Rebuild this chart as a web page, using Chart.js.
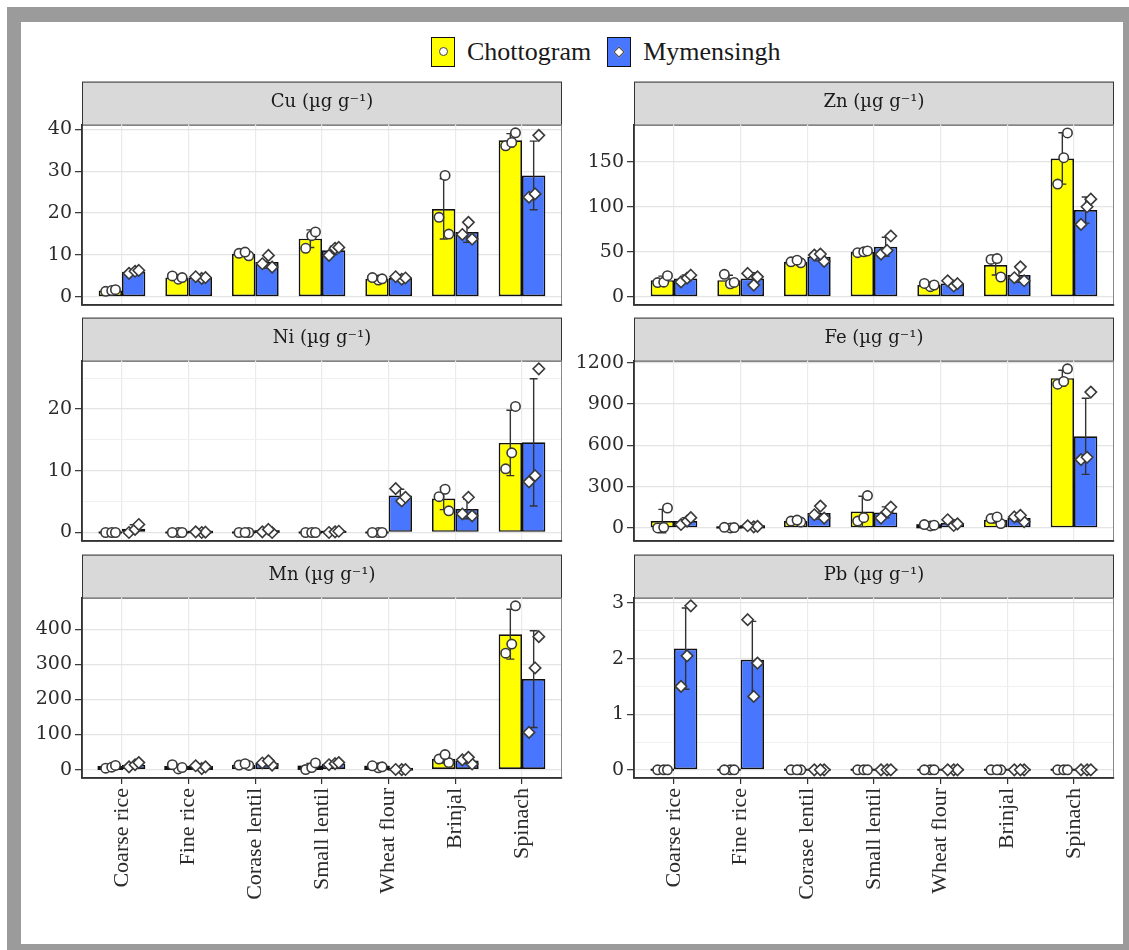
<!DOCTYPE html>
<html>
<head>
<meta charset="utf-8">
<script src="https://cdn.jsdelivr.net/npm/chart.js@4.4.0/dist/chart.umd.min.js"></script>
<style>
  html, body { margin: 0; padding: 0; background: #fff; width: 1129px; height: 950px; overflow: hidden; }
  #frame { position: absolute; left: 7px; top: 7px; width: 1130px; height: 951px; box-sizing: border-box;
           border: 14px solid #9b9b9b; border-top-width: 15px; }
  .panel { position: absolute; }
  #legend { position: absolute; left: 431px; top: 36px; height: 31px; display: flex; align-items: center;
            font-family: "Liberation Serif", serif; font-size: 26px; color: #1a1a1a; }
  .key { width: 22px; height: 28px; border: 1.5px solid #111; position: relative; }
  .key span { position: absolute; left: 50%; top: 50%; background: #fff; border: 1.5px solid #444; box-sizing: border-box; }
  .key .dot { width: 9px; height: 9px; margin: -4.5px 0 0 -4.5px; border-radius: 50%; }
  .key .dia { width: 8px; height: 8px; margin: -4px 0 0 -4px; transform: rotate(45deg); }
</style>
</head>
<body>
<div id="frame"></div>
<div id="legend">
  <div class="key" style="background:#FFFF00"><span class="dot"></span></div>
  <div style="margin: 0 16px 0 12px">Chottogram</div>
  <div class="key" style="background:#4876FF"><span class="dia"></span></div>
  <div style="margin-left: 12px">Mymensingh</div>
</div>
<script>
const categories = ['Coarse rice', 'Fine rice', 'Corase lentil', 'Small lentil', 'Wheat flour', 'Brinjal', 'Spinach'];

// Cu
const cuChMean = [1.5, 4.6, 10.3, 13.9, 4.3, 21.0, 37.4];
const cuChSd = [0.2, 0.4, 0.5, 2.1, 0.3, 7.2, 1.6];
const cuChPts = [[1.3, 1.5, 1.7], [4.2, 4.6, 5.0], [9.8, 10.4, 10.7], [11.6, 14.6, 15.5], [4.0, 4.3, 4.6], [15.0, 19.0, 29.0], [36.1, 36.9, 39.2]];
const cuMyMean = [6.0, 4.6, 8.3, 11.1, 4.5, 15.5, 29.0];
const cuMySd = [0.4, 0.2, 1.5, 1.0, 0.4, 2.5, 8.2];
const cuMyPts = [[5.6, 6.1, 6.3], [4.4, 4.6, 4.8], [7.1, 7.9, 9.9], [9.9, 11.6, 11.8], [4.2, 4.5, 4.8], [13.8, 14.9, 17.8], [23.8, 24.6, 38.6]];

// Zn
const znChMean = [18.5, 18.5, 38.9, 50.0, 13.0, 35.2, 153.7];
const znChSd = [4.5, 5.5, 1.5, 0.8, 1.8, 11.0, 28.5];
const znChPts = [[15.8, 16.2, 23.5], [14.5, 16.0, 25.0], [37.8, 38.9, 40.7], [49.0, 50.0, 50.9], [11.2, 13.1, 14.8], [22.0, 41.5, 42.5], [125.2, 154.5, 182.0]];
const znMyMean = [20.4, 20.4, 44.4, 55.6, 14.8, 24.1, 96.3];
const znMySd = [3.8, 6.5, 4.5, 10.5, 2.5, 8.0, 14.5];
const znMyPts = [[16.5, 20.7, 24.0], [13.0, 22.2, 26.0], [39.4, 46.3, 47.5], [47.4, 51.5, 67.5], [12.0, 14.6, 17.8], [17.8, 21.2, 33.3], [80.4, 100.0, 108.5]];

// Ni
const niChMean = [0, 0, 0, 0, 0, 5.5, 14.5];
const niChSd = [0, 0, 0, 0, 0, 1.8, 5.3];
const niChPts = [[0, 0, 0], [0, 0, 0], [0, 0, 0], [0, 0, 0], [0, 0, 0], [3.5, 5.8, 7.0], [10.3, 12.9, 20.4]];
const niMyMean = [0.6, 0.05, 0.2, 0.1, 6.0, 3.8, 14.6];
const niMySd = [0.65, 0.05, 0.25, 0.1, 1.0, 1.6, 10.3];
const niMyPts = [[0.0, 0.5, 1.3], [0.0, 0.05, 0.1], [0.0, 0.1, 0.5], [0.0, 0.1, 0.2], [5.1, 5.7, 7.1], [2.7, 3.0, 5.7], [8.2, 9.2, 26.5]];

// Fe
const feChMean = [50, 3, 50, 120, 20, 60, 1087];
const feChSd = [85, 3, 6, 110, 6, 25, 58];
const feChPts = [[0, 5, 145], [0, 3, 5], [43, 50, 57], [50, 75, 235], [15, 20, 25], [32, 68, 80], [1043, 1063, 1155]];
const feMyMean = [50, 12, 109, 113, 36, 72, 665];
const feMySd = [25, 4, 45, 40, 22, 25, 276];
const feMyPts = [[25, 50, 75], [8, 12, 16], [72, 96, 159], [72, 116, 152], [18, 30, 60], [45, 80, 92], [496, 513, 986]];

// Mn
const mnChMean = [7.5, 7.5, 14, 8.5, 8, 31, 386];
const mnChSd = [4, 5, 2.5, 9, 3, 12, 71];
const mnChPts = [[4, 7, 12], [2, 6, 14], [12, 13, 17], [0, 6, 19], [5, 8, 11], [20, 30, 43], [332, 358, 467]];
const mnMyMean = [14, 7.5, 19, 17, 0.3, 26, 258];
const mnMySd = [6, 4, 6, 3.5, 0.2, 9, 138];
const mnMyPts = [[8, 14, 20], [3, 8, 11], [13, 19, 25], [14, 17, 20], [0.2, 0.3, 0.4], [16, 28, 35], [106, 290, 379]];

// Pb
const pbChMean = [0, 0, 0, 0, 0, 0, 0];
const pbChSd = [0, 0, 0, 0, 0, 0, 0];
const pbChPts = [[0, 0, 0], [0, 0, 0], [0, 0, 0], [0, 0, 0], [0, 0, 0], [0, 0, 0], [0, 0, 0]];
const pbMyMean = [2.18, 1.98, 0, 0, 0, 0, 0];
const pbMySd = [0.73, 0.69, 0, 0, 0, 0, 0];
const pbMyPts = [[1.5, 2.05, 2.95], [1.32, 1.92, 2.7], [0, 0, 0], [0, 0, 0], [0, 0, 0], [0, 0, 0], [0, 0, 0]];

// labelled y ticks per panel (minor grid lines go half way between)
const cuTicks = [0, 10, 20, 30, 40];
const znTicks = [0, 50, 100, 150];
const niTicks = [0, 10, 20];
const feTicks = [0, 300, 600, 900, 1200];
const mnTicks = [0, 100, 200, 300, 400];
const pbTicks = [0, 1, 2, 3];

const panels = [
  { title: 'Cu (µg g⁻¹)', ticks: cuTicks, ch: [cuChMean, cuChSd, cuChPts], my: [cuMyMean, cuMySd, cuMyPts] },
  { title: 'Zn (µg g⁻¹)', ticks: znTicks, ch: [znChMean, znChSd, znChPts], my: [znMyMean, znMySd, znMyPts] },
  { title: 'Ni (µg g⁻¹)', ticks: niTicks, ch: [niChMean, niChSd, niChPts], my: [niMyMean, niMySd, niMyPts] },
  { title: 'Fe (µg g⁻¹)', ticks: feTicks, ch: [feChMean, feChSd, feChPts], my: [feMyMean, feMySd, feMyPts] },
  { title: 'Mn (µg g⁻¹)', ticks: mnTicks, ch: [mnChMean, mnChSd, mnChPts], my: [mnMyMean, mnMySd, mnMyPts] },
  { title: 'Pb (µg g⁻¹)', ticks: pbTicks, ch: [pbChMean, pbChSd, pbChPts], my: [pbMyMean, pbMySd, pbMyPts] }
];

// facet geometry
const plotLeft = [82, 634];
const plotTop = [125, 361, 598];
const plotW = 480, plotH = 180, axisW = 68, stripH = 43, xLabH = 160;
const jitterFrac = [-0.2, 0.06, 0.22];

// ggplot style limits: data range incl. error bars, expanded 5% each side
function yLimits(p) {
  let lo = 0, hi = 0;
  [p.ch, p.my].forEach(([m, s, pts]) => {
    m.forEach((v, i) => {
      lo = Math.min(lo, v - s[i], ...pts[i]);
      hi = Math.max(hi, v + s[i], ...pts[i]);
    });
  });
  const r = hi - lo;
  return { min: lo - 0.05 * r, max: hi + 0.05 * r };
}

const facetPlugin = {
  id: 'facet',
  beforeDraw(chart) {
    const ctx = chart.ctx, a = chart.chartArea;
    ctx.save();
    ctx.fillStyle = '#d9d9d9';
    ctx.fillRect(a.left, a.top - stripH, a.width, stripH);
    ctx.strokeStyle = '#333';
    ctx.lineWidth = 1;
    ctx.strokeRect(a.left + 0.5, a.top - stripH + 0.5, a.width - 1, stripH);
    ctx.restore();
  },
  afterDatasetsDraw(chart) {
    const ctx = chart.ctx, a = chart.chartArea, ys = chart.scales.y;
    ctx.save();
    // panel frame
    ctx.strokeStyle = '#888';
    ctx.lineWidth = 1;
    ctx.beginPath();
    ctx.moveTo(a.right - 0.5, a.top);
    ctx.lineTo(a.right - 0.5, a.bottom);
    ctx.stroke();
    ctx.strokeStyle = '#333';
    ctx.lineWidth = 1.5;
    ctx.beginPath();
    ctx.moveTo(a.left, a.top);
    ctx.lineTo(a.left, a.bottom);
    ctx.lineTo(a.right, a.bottom);
    ctx.stroke();

    const metas = chart.data.datasets.map((ds, di) => chart.getDatasetMeta(di));
    // flat bars and error bars
    chart.data.datasets.forEach((ds, di) => {
      metas[di].data.forEach((bar, i) => {
        const { x, y, base, width } = bar.getProps(['x', 'y', 'base', 'width'], true);
        if (Math.abs(base - y) < 3) {
          ctx.strokeStyle = '#111';
          ctx.lineWidth = 2;
          ctx.strokeRect(x - width / 2, Math.min(y, base), width, Math.abs(base - y));
        }
        const m = ds.data[i], s = ds.sd[i];
        const yt = ys.getPixelForValue(m + s), yb = ys.getPixelForValue(m - s);
        const cap = width * 0.17;
        ctx.strokeStyle = '#333';
        ctx.lineWidth = 1.4;
        ctx.beginPath();
        ctx.moveTo(x, yt); ctx.lineTo(x, yb);
        ctx.moveTo(x - cap, yt); ctx.lineTo(x + cap, yt);
        ctx.moveTo(x - cap, yb); ctx.lineTo(x + cap, yb);
        ctx.stroke();
      });
    });
    // replicate points
    ctx.fillStyle = '#fff';
    ctx.strokeStyle = '#3a3a3a';
    ctx.lineWidth = 1.6;
    chart.data.datasets.forEach((ds, di) => {
      metas[di].data.forEach((bar, i) => {
        const { x, width } = bar.getProps(['x', 'width'], true);
        ds.pts[i].forEach((v, k) => {
          const px = x + jitterFrac[(k + i) % 3] * width;
          const py = ys.getPixelForValue(v);
          ctx.beginPath();
          if (di === 0) {
            ctx.arc(px, py, 4.7, 0, Math.PI * 2);
          } else {
            ctx.moveTo(px, py - 5.7);
            ctx.lineTo(px + 5.7, py);
            ctx.lineTo(px, py + 5.7);
            ctx.lineTo(px - 5.7, py);
            ctx.closePath();
          }
          ctx.fill();
          ctx.stroke();
        });
      });
    });
    ctx.restore();
  }
};

panels.forEach((p, idx) => {
  const col = idx % 2, row = Math.floor(idx / 2);
  const bottomRow = row === 2;
  const canvas = document.createElement('canvas');
  const w = axisW + plotW + 2;
  const h = 44 + plotH + (bottomRow ? xLabH : 2);
  canvas.width = w;
  canvas.height = h;
  canvas.className = 'panel';
  canvas.style.left = (plotLeft[col] - axisW) + 'px';
  canvas.style.top = (plotTop[row] - 44) + 'px';
  document.body.appendChild(canvas);

  const lim = yLimits(p);
  const major = p.ticks;
  const half = (major[1] - major[0]) / 2;
  const isMajor = (v) => major.some(t => Math.abs(t - v) < 1e-9);

  new Chart(canvas.getContext('2d'), {
    type: 'bar',
    data: {
      labels: categories,
      datasets: [
        { label: 'Chottogram', data: p.ch[0], sd: p.ch[1], pts: p.ch[2],
          backgroundColor: '#FFFF00', borderColor: '#111', borderWidth: 1.7, borderSkipped: false,
          categoryPercentage: 0.7, barPercentage: 1.0 },
        { label: 'Mymensingh', data: p.my[0], sd: p.my[1], pts: p.my[2],
          backgroundColor: '#4876FF', borderColor: '#111', borderWidth: 1.7, borderSkipped: false,
          categoryPercentage: 0.7, barPercentage: 1.0 }
      ]
    },
    options: {
      responsive: false,
      animation: false,
      devicePixelRatio: 1,
      layout: { padding: { top: 1, right: 2, bottom: bottomRow ? 0 : 2, left: 0 } },
      plugins: {
        legend: { display: false },
        tooltip: { enabled: false },
        title: {
          display: true, text: p.title, fullSize: false, color: '#1a1a1a',
          font: { family: 'DejaVu Serif', size: 18, weight: 'normal' },
          padding: { top: 10, bottom: 11 }
        }
      },
      scales: {
        x: {
          grid: { offset: false, color: '#ebebeb', lineWidth: 1.2, drawTicks: bottomRow, tickLength: 6, tickColor: '#333', tickWidth: 1.2 },
          border: { display: true, color: '#333', width: 1.5 },
          ticks: {
            display: bottomRow, autoSkip: false, minRotation: 90, maxRotation: 90, padding: 4,
            color: '#2b2b2b', font: { family: 'Liberation Serif', size: 22 }
          },
          // ggplot pads a discrete axis by 0.6 of a category on each side
          afterBuildTicks(scale) {
            scale._startValue = -0.6;
            scale._valueRange = categories.length + 0.2;
          },
          afterFit(scale) {
            scale.height = bottomRow ? xLabH : 0;
            scale.paddingLeft = 0;
            scale.paddingRight = 0;
          }
        },
        y: {
          min: lim.min,
          max: lim.max,
          afterBuildTicks(scale) {
            const t = [];
            for (let k = Math.ceil(lim.min / half); k * half <= lim.max; k++) t.push({ value: +(k * half).toFixed(6) });
            scale.ticks = t;
          },
          afterFit(scale) {
            scale.width = axisW;
            // labels near the ends may overhang the panel, no extra room needed
            scale.paddingTop = 0;
            scale.paddingBottom = 0;
          },
          grid: {
            color: (c) => (c.tick && isMajor(c.tick.value)) ? '#e4e4e4' : '#f0f0f0',
            lineWidth: (c) => (c.tick && isMajor(c.tick.value)) ? 1.3 : 1,
            tickColor: (c) => (c.tick && isMajor(c.tick.value)) ? '#333' : 'rgba(0,0,0,0)',
            tickLength: 7,
            tickWidth: 1.2
          },
          border: { display: true, color: '#333', width: 1.5 },
          ticks: {
            padding: 3,
            color: '#2b2b2b',
            font: { family: 'DejaVu Serif', size: 19 },
            callback: (v) => isMajor(v) ? String(v) : ''
          }
        }
      }
    },
    plugins: [facetPlugin]
  });
});
</script>
</body>
</html>
